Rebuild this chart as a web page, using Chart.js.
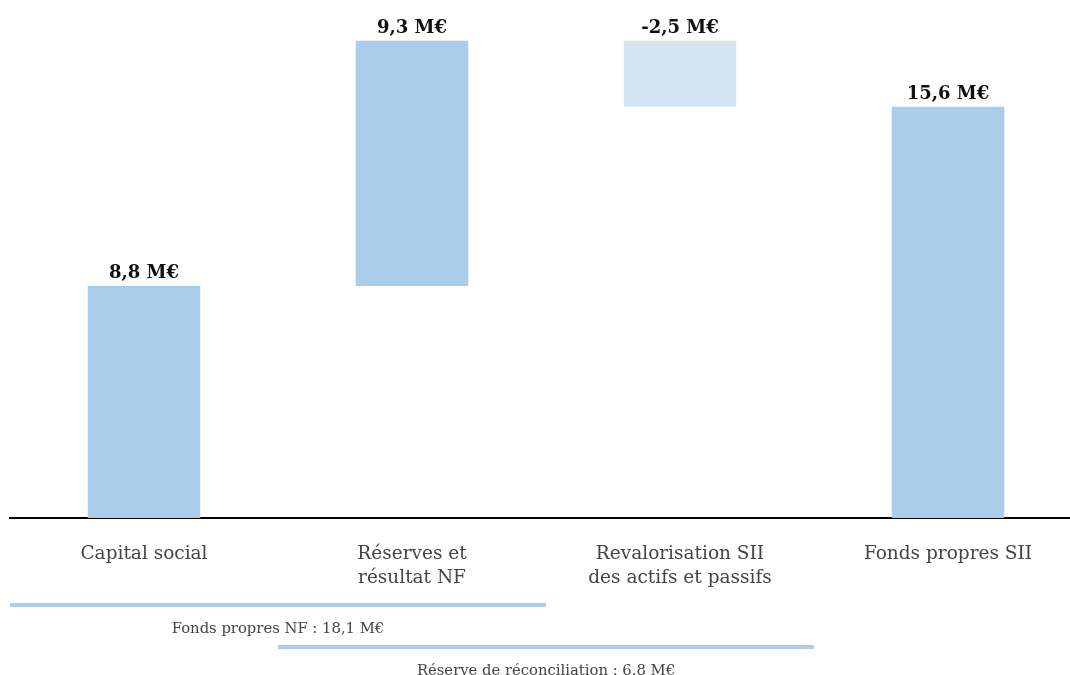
<!DOCTYPE html>
<html>
<head>
<meta charset="utf-8">
<script src="https://cdn.jsdelivr.net/npm/chart.js@4"></script>
<style>
  html, body { margin: 0; padding: 0; background: #fff; overflow: hidden; }
</style>
</head>
<body>
<canvas id="chart" width="1082" height="675"></canvas>
<script>
// waterfall: capital + reserves + revalorisation = fonds propres SII
const categories = [
  ['Capital social'],
  ['Réserves et', 'résultat NF'],
  ['Revalorisation SII', 'des actifs et passifs'],
  ['Fonds propres SII'],
];
const steps = [8.8, 9.3, -2.5, 15.6];
const isTotal = [false, false, false, true];

// brackets under the axis
const spanLabels = ['Fonds propres NF : 18,1 M€', 'Réserve de réconciliation : 6.8 M€'];
const spanFrom = [0, 1];
const spanTo = [1, 2];

const BAR_COLOR = '#abcdeb';
const NEG_COLOR = '#d4e6f4';
const FONT = `"DejaVu Serif", serif`;

let running = 0;
const ranges = steps.map((v, i) => {
  if (isTotal[i]) return [0, v];
  const r = [running, running + v];
  running += v;
  return r;
});

const fmt = (v) => `${v.toFixed(1).replace('.', ',')} M€`;

const barLabels = {
  id: 'barLabels',
  afterDatasetsDraw(chart) {
    const ctx = chart.ctx;
    const meta = chart.getDatasetMeta(0);
    ctx.save();
    ctx.font = `bold 18px ${FONT}`;
    ctx.fillStyle = '#111';
    ctx.textAlign = 'center';
    ctx.textBaseline = 'alphabetic';
    meta.data.forEach((bar, i) => {
      const top = Math.min(bar.y, bar.base);
      ctx.fillText(fmt(steps[i]), bar.x, top - 8);
    });
    ctx.restore();
  }
};

const spans = {
  id: 'spans',
  afterDraw(chart) {
    const ctx = chart.ctx;
    const x = chart.scales.x;
    const slot = x.width / categories.length;
    ctx.save();
    spanLabels.forEach((label, i) => {
      const left = x.left + spanFrom[i] * slot;
      const right = x.left + (spanTo[i] + 1) * slot;
      const y = 605 + i * 42;
      ctx.strokeStyle = BAR_COLOR;
      ctx.lineWidth = 4;
      ctx.beginPath();
      ctx.moveTo(left, y);
      ctx.lineTo(right, y);
      ctx.stroke();
      ctx.font = `14.8px ${FONT}`;
      ctx.fillStyle = '#444';
      ctx.textAlign = 'center';
      ctx.textBaseline = 'alphabetic';
      ctx.fillText(label, (left + right) / 2, y + 28);
    });
    ctx.restore();
  }
};

new Chart(document.getElementById('chart'), {
  type: 'bar',
  plugins: [barLabels, spans],
  data: {
    labels: categories,
    datasets: [{
      data: ranges,
      backgroundColor: steps.map((v) => v < 0 ? NEG_COLOR : BAR_COLOR),
      borderWidth: 0,
      categoryPercentage: 0.42,
      barPercentage: 1,
    }]
  },
  options: {
    responsive: false,
    animation: false,
    layout: {padding: {top: 17, left: 10, right: 0, bottom: 0}},
    plugins: {legend: {display: false}, tooltip: {enabled: false}},
    scales: {
      y: {display: false, min: 0, max: 19},
      x: {
        grid: {display: false},
        border: {color: '#000', width: 2},
        ticks: {
          color: '#444',
          padding: 16,
          font: {family: FONT, size: 18.5, lineHeight: 1.3},
          maxRotation: 0,
          autoSkip: false,
        },
        afterFit: (scale) => { scale.height = 157; },
      }
    }
  }
});
</script>
</body>
</html>
